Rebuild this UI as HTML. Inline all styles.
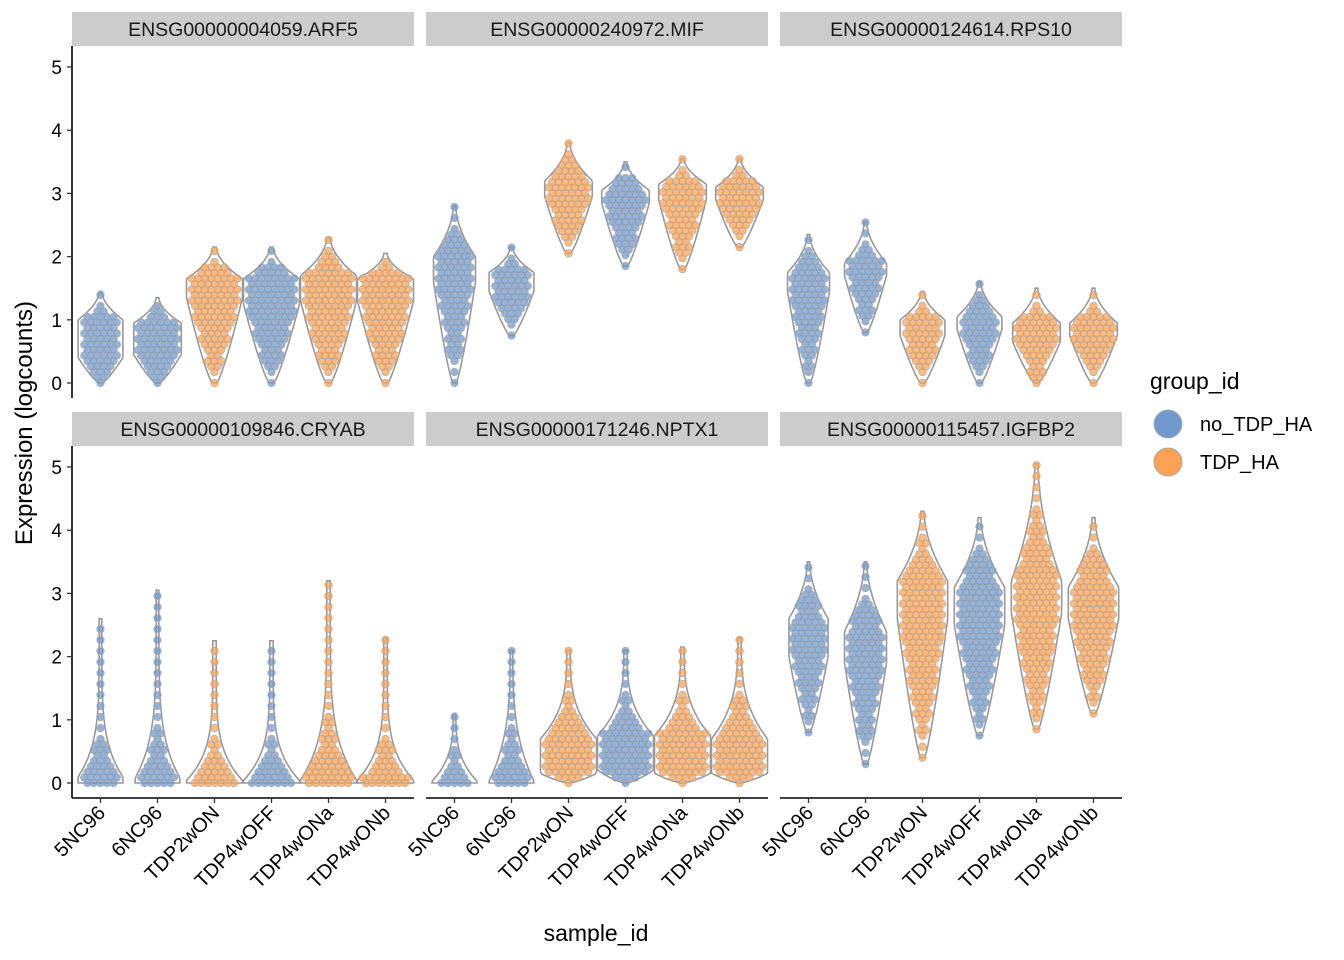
<!DOCTYPE html>
<html><head><meta charset="utf-8">
<style>
body{margin:0;background:#fff;}
svg{display:block;font-family:"Liberation Sans",Arial,sans-serif;}
</style></head>
<body>
<svg id="chart" width="1344" height="960" viewBox="0 0 1344 960"></svg>
<script>
// ---- data ----
const genes = ["ENSG00000004059.ARF5","ENSG00000240972.MIF","ENSG00000124614.RPS10","ENSG00000109846.CRYAB","ENSG00000171246.NPTX1","ENSG00000115457.IGFBP2"];
const samples = ["5NC96","6NC96","TDP2wON","TDP4wOFF","TDP4wONa","TDP4wONb"];
const groups = ["no_TDP_HA","no_TDP_HA","TDP_HA","no_TDP_HA","TDP_HA","TDP_HA"];
const yTicks = [0,1,2,3,4,5];
// per gene, per sample: [min, q25, median, q75, max]
const q_ARF5  = [[0,0.4,0.7,1.0,1.45],[0,0.45,0.7,0.95,1.35],[0,1.35,1.5,1.65,2.15],[0,1.25,1.45,1.65,2.15],[0,1.3,1.5,1.7,2.3],[0,1.3,1.45,1.65,2.05]];
const q_MIF   = [[0,1.6,1.8,2.0,2.8],[0.75,1.45,1.6,1.75,2.15],[2.05,2.95,3.1,3.2,3.8],[1.85,2.85,2.95,3.05,3.5],[1.8,2.9,3.05,3.15,3.55],[2.15,2.9,3.0,3.1,3.55]];
const q_RPS10 = [[0,1.45,1.6,1.75,2.35],[0.8,1.7,1.8,1.9,2.55],[0,0.75,0.9,1.0,1.45],[0,0.85,0.95,1.05,1.6],[0,0.65,0.8,0.95,1.5],[0,0.75,0.85,0.95,1.5]];
const q_CRYAB = [[0,0,0,0.1,2.6],[0,0,0,0.08,3.05],[0,0,0,0.04,2.25],[0,0,0,0.04,2.25],[0,0,0,0.05,3.2],[0,0,0,0.05,2.3]];
const q_NPTX1 = [[0,0,0,0.03,1.1],[0,0,0,0.03,2.1],[0,0.15,0.45,0.7,2.1],[0,0.2,0.5,0.75,2.1],[0,0.15,0.5,0.75,2.15],[0,0.15,0.45,0.7,2.3]];
const q_IGFBP2= [[0.8,2.0,2.3,2.6,3.5],[0.3,1.9,2.1,2.4,3.5],[0.4,2.6,2.9,3.2,4.3],[0.75,2.5,2.8,3.1,4.2],[0.85,2.7,2.9,3.2,5.05],[1.1,2.6,2.8,3.1,4.2]];
const quants = [q_ARF5,q_MIF,q_RPS10,q_CRYAB,q_NPTX1,q_IGFBP2];
// relative violin width (density scale) per gene/sample
const dens = [[0.8,0.85,1,1,1,1],[0.75,0.8,0.85,0.85,0.85,0.85],[0.75,0.75,0.8,0.8,0.85,0.85],[0.8,0.8,1,1,1,1],[0.8,0.8,1,1,1,1],[0.7,0.75,0.9,0.9,0.9,0.9]];
// tail sharpness per gene
const tailShape = [1.8,1.8,1.8,5,3,1.8];

const colors = {"no_TDP_HA":"#7199CB","TDP_HA":"#FDA152"};
const NS="http://www.w3.org/2000/svg";
const svg=document.getElementById('chart');
function mk(tag,attrs,parent){const e=document.createElementNS(NS,tag);for(const k in attrs)e.setAttribute(k,attrs[k]);(parent||svg).appendChild(e);return e;}

const panelX=[72,426,780], panelW=342;
const rowTop=[46,446], rowBottom=[398,798], zeroY=[383,783], unit=63.2;
const stripH=34;

genes.forEach((g,gi)=>{
  const col=gi%3,row=Math.floor(gi/3);
  const px=panelX[col], y0=zeroY[row];
  const yS=v=>y0-v*unit;
  const xS=i=>px+panelW/6*(i+0.5);
  const pg=mk('g',{});
  
  
  const st=mk('rect',{x:px,y:rowTop[row]-stripH,width:panelW,height:stripH,fill:'#CCCCCC'},pg);
  
  
  const stt=mk('text',{x:px+panelW/2,y:rowTop[row]-10,'text-anchor':'middle','font-size':'19.5',fill:'#1a1a1a'},pg);
  stt.textContent=g;
  
  
  samples.forEach((s,si)=>{
    const q=quants[gi][si];
    const maxW=28*dens[gi][si];
    const ts=tailShape[gi];
    const cx=xS(si);
    const w=v=>{
      if(v<q[1]){const t=(v-q[0])/Math.max(q[1]-q[0],1e-6);return maxW*(0.08+0.92*Math.pow(t,0.8));}
      if(v<=q[3])return maxW;
      const t=(q[4]-v)/Math.max(q[4]-q[3],1e-6);return maxW*(0.06+0.94*Math.pow(t,ts));
    };
    const vg=mk('g',{},pg);
    
    
    const steps=60;let L=[],R=[];
    for(let k=0;k<=steps;k++){const v=q[0]+(q[4]-q[0])*k/steps;const ww=w(v);L.push([cx-ww,yS(v)]);R.push([cx+ww,yS(v)]);}
    let d='M'+cx+','+yS(q[0])+' '+L.map(p=>'L'+p[0].toFixed(1)+','+p[1].toFixed(1)).join(' ')+' L'+cx+','+yS(q[4])+' '+R.reverse().map(p=>'L'+p[0].toFixed(1)+','+p[1].toFixed(1)).join(' ')+'Z';
    const o=mk('path',{d:d,fill:'none',stroke:'#999',"stroke-width":1.6},vg);
    
    
    const c=colors[groups[si]];
    const dy=5.5,dx=6.5;
    let r=0;
    for(let py=yS(q[0]);py>=yS(q[4])-0.1;py-=dy,r++){
      const v=(y0-py)/unit;const ww=w(v)-3;
      const off=(r%2)?dx/2:0;
      let xs=[];
      for(let x=off;x<=ww;x+=dx){xs.push(x);if(x>0)xs.push(-x);}
      if(xs.length===0){if(r%2===0)xs=[0];}
      xs.forEach(x=>{
        const p=mk('circle',{cx:(cx+x).toFixed(1),cy:py.toFixed(1),r:3.8,fill:c,'fill-opacity':0.75,stroke:'#aaa','stroke-width':0.8,'stroke-opacity':0.8},vg);
        
        
      });
    }
  });
  if(col===0){
    const ax=mk('line',{x1:px,y1:rowTop[row],x2:px,y2:rowBottom[row],stroke:'#000','stroke-width':1.6},pg);
    
    
    yTicks.forEach(t=>{
      mk('line',{x1:px-5,y1:yS(t),x2:px,y2:yS(t),stroke:'#333','stroke-width':1.3},pg);
      const tl=mk('text',{x:px-10,y:yS(t)+7,'text-anchor':'end','font-size':'19',fill:'#000'},pg);
      tl.textContent=t;
      
      
    });
  }
  if(row===1){
    const xa=mk('line',{x1:px,y1:rowBottom[row],x2:px+panelW,y2:rowBottom[row],stroke:'#000','stroke-width':1.6},pg);
    
    
    samples.forEach((s,si)=>{
      const x=xS(si);
      mk('line',{x1:x,y1:798,x2:x,y2:803,stroke:'#333','stroke-width':1.3},pg);
      const tl=mk('text',{x:x+6,y:814,'text-anchor':'end','font-size':'20',fill:'#000',transform:'rotate(-45 '+(x+6)+' 814)'},pg);
      tl.textContent=s;
      
      
    });
  }
});
</script>
<script>
const s2=document.getElementById('chart');
const N2="http://www.w3.org/2000/svg";
function t2(x,y,txt,size,extra,name){const e=document.createElementNS(N2,'text');e.setAttribute('x',x);e.setAttribute('y',y);e.setAttribute('font-size',size);e.setAttribute('fill','#000');for(const k in extra)e.setAttribute(k,extra[k]);e.textContent=txt;


s2.appendChild(e);return e;}
t2(596,941,'sample_id',23,{'text-anchor':'middle'},'x-axis-title');
t2(32,423,'Expression (logcounts)',24,{'text-anchor':'middle',transform:'rotate(-90 32 423)'},'y-axis-title');
t2(1150,389,'group_id',23,{},'legend-title');
const legItems=[["no_TDP_HA","#7199CB",424],["TDP_HA","#FDA152",462]];
legItems.forEach(l=>{
  const c=document.createElementNS(N2,'circle');
  c.setAttribute('cx',1168);c.setAttribute('cy',l[2]);c.setAttribute('r',14);c.setAttribute('fill',l[1]);c.setAttribute('stroke','#aaa');c.setAttribute('stroke-width',1);
  
  
  s2.appendChild(c);
  t2(1200,l[2]+7,l[0],20,{},'legend-entry');
});
</script>
</body></html>
